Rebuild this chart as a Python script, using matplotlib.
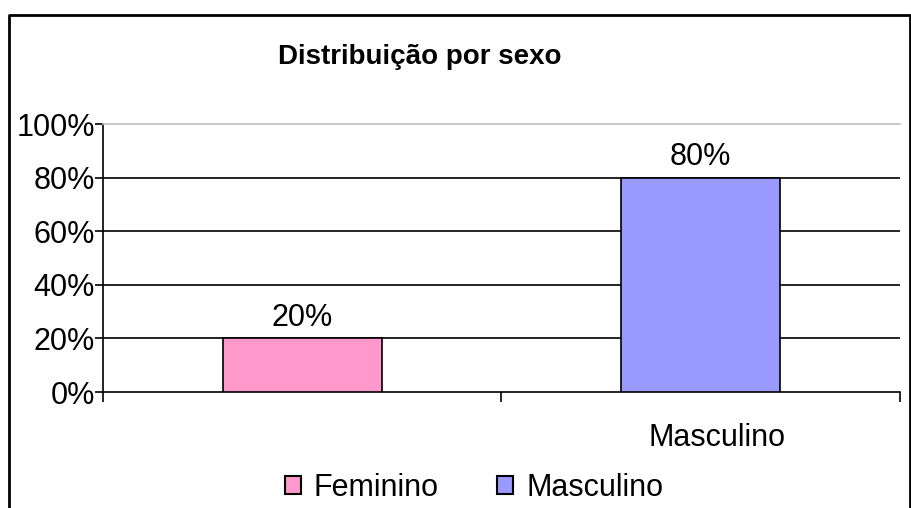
import matplotlib.pyplot as plt
import matplotlib.transforms as mtransforms
from matplotlib.patches import Patch
from matplotlib.lines import Line2D

# data
categories = ['Feminino', 'Masculino']
values = [20, 80]
colors = ['#FF99CC', '#9999FF']
tick_labels = ['', 'Masculino']
y_ticks = [0, 20, 40, 60, 80, 100]

plt.rcParams['font.family'] = ['Liberation Sans', 'DejaVu Sans']

fig = plt.figure(figsize=(9.12, 5.08), dpi=100)
ax = fig.add_axes([103 / 912, 116 / 508, 797 / 912, 268 / 508])

x = list(range(len(categories)))
ax.bar(x, values, width=0.40, color=colors, edgecolor='black', linewidth=1.2, zorder=3)

# value labels above bars
for xi, v in zip(x, values):
    ax.text(xi, v + 2, f'{v}%', ha='center', va='bottom', fontsize=22, zorder=4)

ax.set_xlim(-0.5, 1.5)
ax.set_ylim(0, 100)

# y axis
ax.set_yticks(y_ticks)
ax.set_yticklabels([f'{t}%' for t in y_ticks])
ax.tick_params(axis='y', direction='out', length=6, width=1.2, pad=0, labelsize=22)
for t in y_ticks[1:-1]:
    ax.axhline(t, color='black', linewidth=1.2, zorder=1)

# x axis: labels at centers, tick marks at category boundaries
ax.set_xticks(x)
ax.set_xticklabels(tick_labels)
ax.tick_params(axis='x', which='major', length=0, pad=22, labelsize=22)
ax.set_xticks([-0.5, 0.5, 1.5], minor=True)
ax.tick_params(axis='x', which='minor', direction='out', length=7, width=1.2)

# label sits a bit right of the bar centre in the original
offset = mtransforms.ScaledTranslation(16 / 100, 0, fig.dpi_scale_trans)
for lbl in ax.get_xticklabels():
    lbl.set_transform(lbl.get_transform() + offset)

ax.spines['right'].set_visible(False)
ax.spines['top'].set_color('#c0c0c0')
ax.spines['top'].set_linewidth(1.2)
ax.spines['left'].set_linewidth(1.2)
ax.spines['bottom'].set_linewidth(1.2)

# title
fig.text(420 / 912, 1 - 57 / 508, 'Distribuição por sexo', ha='center', va='center',
         fontsize=20, fontweight='bold')

# legend
handles = [Patch(facecolor=c, edgecolor='black', linewidth=1.5) for c in colors]
fig.legend(handles, categories, loc='center', bbox_to_anchor=(474 / 912, 1 - 488 / 508),
           ncol=2, frameon=False, fontsize=22, handlelength=0.52, handleheight=0.52,
           handletextpad=0.43, columnspacing=1.9, borderpad=0)

# outer border (left, top, right)
fig.add_artist(Line2D([9 / 912, 9 / 912, 910 / 912, 910 / 912],
                      [0, 1 - 15 / 508, 1 - 15 / 508, 0],
                      color='black', linewidth=2, transform=fig.transFigure))

fig.savefig('out.png', dpi=100)
